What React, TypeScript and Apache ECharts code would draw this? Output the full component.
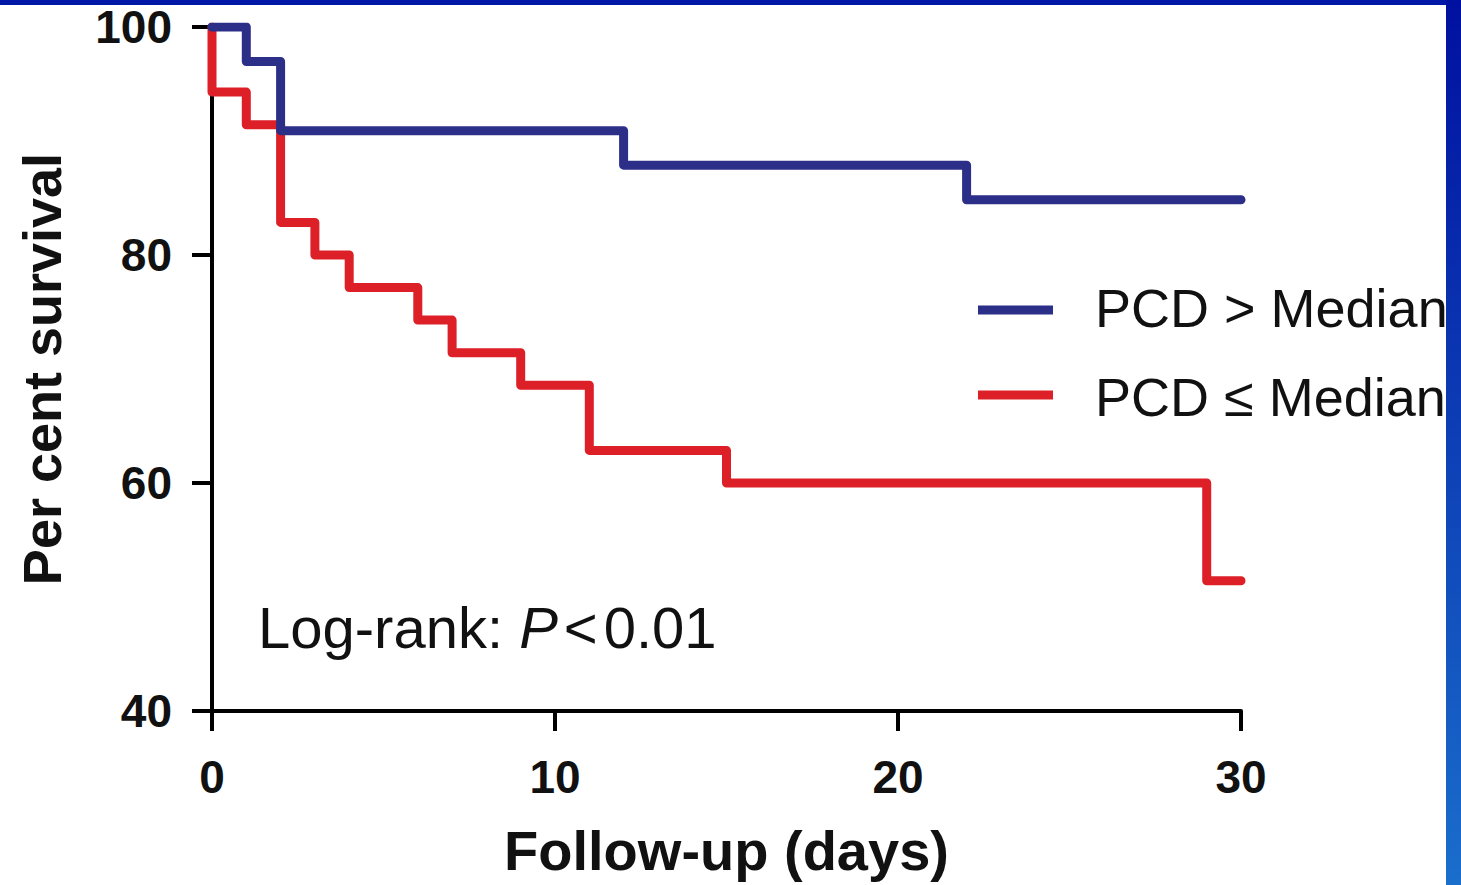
import React, { useEffect, useRef } from "react";
import * as echarts from "echarts";

const seriesNames = ["PCD > Median", "PCD ≤ Median"];
// Kaplan–Meier steps: [day, per cent survival]
const highPcd: [number, number][] = [
  [0, 100], [1, 96.97], [2, 90.91], [12, 87.88], [22, 84.85], [30, 84.85],
];
const lowPcd: [number, number][] = [
  [0, 100], [0, 94.29], [1, 91.43], [2, 82.86], [3, 80], [4, 77.14], [6, 74.29],
  [7, 71.43], [9, 68.57], [11, 62.86], [15, 60], [29, 51.43], [30, 51.43],
];
const xTicks = [0, 10, 20, 30];
const yTicks = [40, 60, 80, 100];

const BLUE = "#2c2f88";
const RED = "#dd2027";
const FONT = "'Liberation Sans', Arial, Helvetica, sans-serif";

export default function App() {
  const ref = useRef<HTMLDivElement>(null);
  useEffect(() => {
    if (!ref.current) return;
    const chart = echarts.init(ref.current, undefined, { renderer: "svg" });
    chart.setOption({
      animation: false,
      backgroundColor: "#ffffff",
      grid: { left: 212, right: 220, top: 27, bottom: 174 },
      xAxis: {
        type: "value",
        min: xTicks[0],
        max: xTicks[xTicks.length - 1],
        interval: 10,
        name: "Follow-up (days)",
        nameLocation: "middle",
        nameGap: 111,
        nameTextStyle: { fontFamily: FONT, fontWeight: "bold", fontSize: 56, color: "#111" },
        axisLine: { lineStyle: { color: "#000", width: 4 } },
        axisTick: { length: 20, lineStyle: { color: "#000", width: 4 } },
        axisLabel: { margin: 43, fontFamily: FONT, fontWeight: "bold", fontSize: 46, color: "#111" },
        splitLine: { show: false },
      },
      yAxis: {
        type: "value",
        min: yTicks[0],
        max: yTicks[yTicks.length - 1],
        interval: 20,
        name: "Per cent survival",
        nameLocation: "middle",
        nameGap: 143,
        nameTextStyle: { fontFamily: FONT, fontWeight: "bold", fontSize: 54, color: "#111" },
        axisLine: { show: true, lineStyle: { color: "#000", width: 4 } },
        axisTick: { show: true, length: 20, lineStyle: { color: "#000", width: 4 } },
        axisLabel: { margin: 40, fontFamily: FONT, fontWeight: "bold", fontSize: 46, color: "#111" },
        splitLine: { show: false },
      },
      series: [
        {
          name: seriesNames[1],
          type: "line",
          step: "end",
          data: lowPcd,
          showSymbol: false,
          z: 3,
          lineStyle: { color: RED, width: 9, cap: "round", join: "round" },
          itemStyle: { color: RED },
        },
        {
          name: seriesNames[0],
          type: "line",
          step: "end",
          data: highPcd,
          showSymbol: false,
          z: 4,
          lineStyle: { color: BLUE, width: 9, cap: "round", join: "round" },
          itemStyle: { color: BLUE },
        },
      ],
      graphic: [
        {
          type: "text",
          left: 258,
          top: 598,
          style: {
            text: "Log-rank: {i|P}{lt|<}0.01",
            fontFamily: FONT,
            fontSize: 58,
            fill: "#111",
            rich: {
              i: { fontFamily: FONT, fontSize: 58, fontStyle: "italic", fill: "#111" },
              lt: { fontFamily: FONT, fontSize: 58, fill: "#111", padding: [0, 6, 0, 6] },
            },
          },
        },
        { type: "line", shape: { x1: 978, y1: 310, x2: 1053, y2: 310 }, style: { stroke: BLUE, lineWidth: 9 } },
        { type: "line", shape: { x1: 978, y1: 395, x2: 1053, y2: 395 }, style: { stroke: RED, lineWidth: 9 } },
        {
          type: "text",
          x: 1095,
          y: 308,
          style: { text: seriesNames[0], fontFamily: FONT, fontSize: 54, fill: "#111", verticalAlign: "middle" },
        },
        {
          type: "text",
          x: 1095,
          y: 397,
          style: { text: seriesNames[1], fontFamily: FONT, fontSize: 54, fill: "#111", verticalAlign: "middle" },
        },
        {
          type: "rect",
          z: 100,
          shape: { x: 0, y: 0, width: 1461, height: 5 },
          style: { fill: "#0018a8" },
        },
        {
          type: "rect",
          z: 100,
          shape: { x: 1446, y: 0, width: 15, height: 885 },
          style: {
            fill: new echarts.graphic.LinearGradient(0, 0, 0, 1, [
              { offset: 0, color: "#0010a0" },
              { offset: 1, color: "#1a6ecc" },
            ]),
          },
        },
      ],
    });
    return () => chart.dispose();
  }, []);
  return (
    <div
      ref={ref}
      style={{ position: "fixed", left: 0, top: 0, width: 1461, height: 885, background: "#fff" }}
    />
  );
}
